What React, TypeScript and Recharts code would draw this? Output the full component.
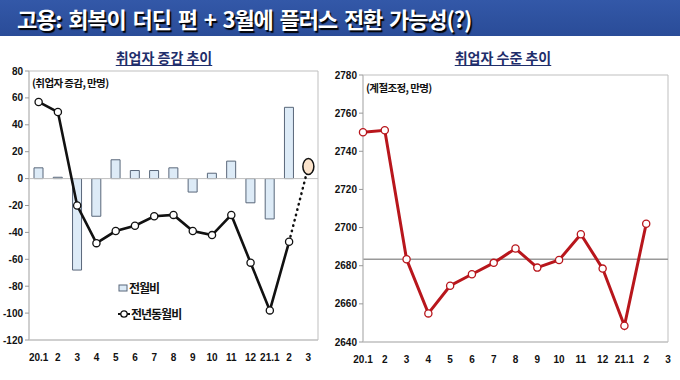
import React from 'react';
import {
  ComposedChart, LineChart, Bar, Line, XAxis, YAxis, ReferenceLine, ReferenceArea, Legend,
} from 'recharts';

const months = ['20.1', '20.2', '20.3', '20.4', '20.5', '20.6', '20.7', '20.8', '20.9', '20.10', '20.11', '20.12', '21.1', '21.2', '21.3'];
const tickLabels = ['20.1', '2', '3', '4', '5', '6', '7', '8', '9', '10', '11', '12', '21.1', '2', '3'];
const momChange = [8, 1, -68, -28, 14, 6, 6, 8, -10, 4, 13, -18, -30, 53, null];
const yoyChange = [57, 49.5, -20, -48, -39, -35, -28, -27, -39, -42, -27, -62.5, -98, -47, null];
const yoyForecast = [null, null, null, null, null, null, null, null, null, null, null, null, null, -47, 9];
const employedLevel = [2750, 2751, 2683.4, 2655, 2669.5, 2675.5, 2681.5, 2689, 2679, 2683, 2696.5, 2678.5, 2648.5, 2702, null];
const leftTicks = [-120, -100, -80, -60, -40, -20, 0, 20, 40, 60, 80];
const rightTicks = [2640, 2660, 2680, 2700, 2720, 2740, 2760, 2780];
const levelRef = 2683.4;

const leftData = months.map((m, i) => ({ m, mom: momChange[i], yoy: yoyChange[i], fc: yoyForecast[i] }));
const rightData = months.map((m, i) => ({ m, level: employedLevel[i] }));

const tickFont = { fontSize: 10, fontWeight: 700, fill: '#111', fontFamily: '"Liberation Sans Narrow", "Liberation Sans", Arial, sans-serif' };
const kFont = '"Noto Sans CJK KR", "Noto Sans", sans-serif';
const fmt = (_v: string, i: number) => tickLabels[i];

const ForecastDot = (props: any) => {
  const { cx, cy, index } = props;
  if (index !== months.length - 1 || cx == null) return <g key={`fd${index}`} />;
  return <ellipse key={`fd${index}`} cx={cx} cy={cy} rx={5.5} ry={8} fill="#FBE3CB" stroke="#111" strokeWidth={1.5} />;
};

const LegendContent = () => (
  <div style={{ fontFamily: kFont, fontWeight: 700, fontSize: 12, letterSpacing: -1, color: '#111', lineHeight: '26px' }}>
    <div style={{ display: 'flex', alignItems: 'center' }}>
      <svg width={10} height={10} style={{ marginRight: 1 }}>
        <rect x={1} y={2} width={8} height={6} fill="#DDEBF7" stroke="#59677A" strokeWidth={1} />
      </svg>
      전월비
    </div>
    <div style={{ display: 'flex', alignItems: 'center' }}>
      <svg width={12} height={10} style={{ marginRight: 1 }}>
        <line x1={0} y1={5} x2={12} y2={5} stroke="#111" strokeWidth={2} />
        <circle cx={6} cy={5} r={3.2} fill="#fff" stroke="#111" strokeWidth={1.3} />
      </svg>
      전년동월비
    </div>
  </div>
);

const titleStyle = (center: number): React.CSSProperties => ({
  position: 'absolute', top: 47, left: center - 100, width: 200, textAlign: 'center',
  fontFamily: kFont, fontWeight: 700, fontSize: 14, color: '#1F2E6B', textDecoration: 'underline',
  textUnderlineOffset: 2, lineHeight: '20px',
});

const noteStyle = (left: number, top: number): React.CSSProperties => ({
  position: 'absolute', left, top, fontFamily: kFont, fontWeight: 700, fontSize: 10.5, letterSpacing: -0.6, color: '#111', lineHeight: '14px',
});

export default function App() {
  return (
    <div style={{ position: 'absolute', left: 0, top: 0, width: 680, height: 380, background: '#fff', overflow: 'hidden' }}>
      <div style={{ position: 'absolute', left: 0, top: 0, width: 680, height: 36, background: 'linear-gradient(#3358A8, #2A4C98)' }} />
      <div style={{
        position: 'absolute', left: 17, top: 3, fontFamily: kFont, fontWeight: 700, fontSize: 22, letterSpacing: -1.1,
        wordSpacing: 3, color: '#fff', textShadow: '1.5px 1.5px 1px #000', lineHeight: '30px', whiteSpace: 'nowrap',
      }}>고용: 회복이 더딘 편 + 3월에 플러스 전환 가능성(?)</div>

      <div style={titleStyle(164)}>취업자 증감 추이</div>
      <div style={titleStyle(503)}>취업자 수준 추이</div>

      <div style={{ position: 'absolute', left: 0, top: 0 }}>
        <ComposedChart width={340} height={380} data={leftData} margin={{ top: 71, right: 22, bottom: 20, left: 0 }}>
          <ReferenceArea x1={months[0]} x2={months[months.length - 1]} y1={-120} y2={80} fill="none" stroke="#BFBFBF" strokeWidth={1} />
          <XAxis dataKey="m" tickFormatter={fmt} interval={0} tick={tickFont} tickLine={false} axisLine={{ stroke: '#BFBFBF' }} tickMargin={8} height={20} />
          <YAxis domain={[-120, 80]} ticks={leftTicks} interval={0} tick={tickFont} width={29} tickSize={4} tickMargin={2} axisLine={{ stroke: '#BFBFBF' }} tickLine={{ stroke: '#999' }} />
          <ReferenceLine y={0} stroke="#BFBFBF" strokeWidth={1} />
          <Bar dataKey="mom" barSize={9} fill="#DDEBF7" stroke="#59677A" strokeWidth={1} isAnimationActive={false} />
          <Line dataKey="fc" stroke="#111" strokeWidth={2.5} strokeDasharray="0.5 5" strokeLinecap="round" dot={ForecastDot} activeDot={false} isAnimationActive={false} connectNulls={false} />
          <Line dataKey="yoy" stroke="#111" strokeWidth={2.6} dot={{ r: 3.6, fill: '#fff', stroke: '#111', strokeWidth: 1.3 }} activeDot={false} isAnimationActive={false} connectNulls={false} />
          <Legend layout="vertical" align="center" verticalAlign="middle" content={LegendContent} wrapperStyle={{ left: 118, top: 275, width: 110 }} />
        </ComposedChart>
      </div>
      <div style={noteStyle(32, 76)}>(취업자 증감, 만명)</div>

      <div style={{ position: 'absolute', left: 330, top: 0 }}>
        <LineChart width={350} height={380} data={rightData} margin={{ top: 75, right: 12, bottom: 18, left: 0 }}>
          <ReferenceArea x1={months[0]} x2={months[months.length - 1]} y1={2640} y2={2780} fill="none" stroke="#BFBFBF" strokeWidth={1} />
          <XAxis dataKey="m" tickFormatter={fmt} interval={0} tick={tickFont} tickLine={false} axisLine={{ stroke: '#BFBFBF' }} tickMargin={8} height={20} />
          <YAxis domain={[2640, 2780]} ticks={rightTicks} interval={0} tick={tickFont} width={33} tickSize={4} tickMargin={2} axisLine={{ stroke: '#BFBFBF' }} tickLine={{ stroke: '#999' }} />
          <ReferenceLine y={levelRef} stroke="#999" strokeWidth={1.5} />
          <Line dataKey="level" stroke="#B8161C" strokeWidth={3} dot={{ r: 3.6, fill: '#fff', stroke: '#B8161C', strokeWidth: 1.3 }} activeDot={false} isAnimationActive={false} />
        </LineChart>
      </div>
      <div style={noteStyle(366, 81)}>(계절조정, 만명)</div>
    </div>
  );
}
